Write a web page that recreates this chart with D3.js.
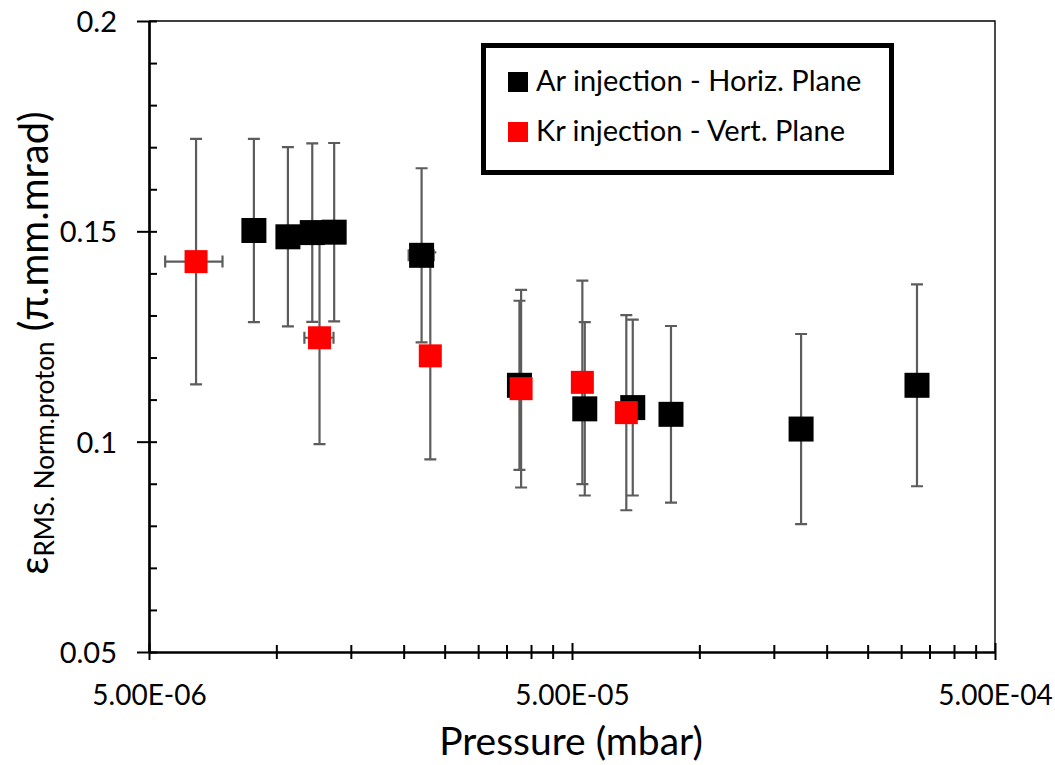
<!DOCTYPE html>
<html>
<head>
<meta charset="utf-8">
<script src="https://cdn.jsdelivr.net/npm/d3@7"></script>
<style>
  body { margin: 0; background: #fff; }
  svg { display: block; }
  text { font-family: Lato, "Open Sans", sans-serif; fill: #000; }
</style>
</head>
<body>
<svg id="chart" width="1055" height="765"></svg>
<script>
// Ar injection, horizontal plane
const arPressure      = [8.85e-6, 1.065e-5, 1.216e-5, 1.37e-5, 2.205e-5, 3.756e-5, 5.36e-5, 6.96e-5, 8.57e-5, 1.74e-4, 3.27e-4];
const arEmittance     = [0.1502, 0.1487, 0.1497, 0.1498, 0.1443, 0.1134, 0.1078, 0.1081, 0.1065, 0.1030, 0.1134];
const arError         = [0.0218, 0.0213, 0.0212, 0.0212, 0.0207, 0.0201, 0.0206, 0.0209, 0.0210, 0.0226, 0.0240];
const arPressureError = [0, 0, 0, 0, 1.5e-6, 0, 0, 0, 0, 0, 0];

// Kr injection, vertical plane
const krPressure      = [6.46e-6, 1.265e-5, 2.312e-5, 3.79e-5, 5.29e-5, 6.72e-5];
const krEmittance     = [0.1428, 0.1247, 0.1204, 0.1126, 0.1141, 0.1069];
const krError         = [0.0292, 0.0253, 0.0246, 0.0235, 0.0242, 0.0232];
const krPressureError = [1e-6, 1e-6, 0, 0, 0, 0];

const seriesNames  = ["Ar injection - Horiz. Plane", "Kr injection - Vert. Plane"];
const seriesColors = ["#000000", "#ff0000"];

const yMajorTicks  = [0.05, 0.1, 0.15, 0.2];
const yTickLabels  = ["0.05", "0.1", "0.15", "0.2"];
const xMajorTicks  = [5e-6, 5e-5, 5e-4];
const xTickLabels  = ["5.00E-06", "5.00E-05", "5.00E-04"];
const xTitle = "Pressure (mbar)";

const svg = d3.select("#chart");
const plotLeft = 149, plotRight = 995, plotTop = 21, plotBottom = 652;

const x = d3.scaleLog().domain([5e-6, 5e-4]).range([plotLeft, plotRight]);
const y = d3.scaleLinear().domain([0.05, 0.2]).range([plotBottom, plotTop]);

// plot-area outline (top and right edges)
svg.append("path")
  .attr("d", `M${plotLeft},${plotTop}H${plotRight}V${plotBottom}`)
  .attr("fill", "none").attr("stroke", "#000").attr("stroke-width", 1.4);

// minor ticks
const yMinor = d3.range(6, 20).filter(k => k % 5 !== 0).map(k => k / 100);
svg.append("g").attr("transform", `translate(${plotLeft},0)`)
  .call(d3.axisLeft(y).tickValues(yMinor).tickFormat("").tickSize(-8).tickSizeOuter(0))
  .call(g => g.select(".domain").remove())
  .call(g => g.selectAll("line").attr("stroke", "#000").attr("stroke-width", 2));

const xMinor = [];
[5e-6, 5e-5].forEach(base => { for (let k = 2; k <= 9; k++) xMinor.push(base * k); });
svg.append("g").attr("transform", `translate(0,${plotBottom})`)
  .call(d3.axisBottom(x).tickValues(xMinor).tickFormat("").tickSize(7).tickSizeOuter(0))
  .call(g => g.select(".domain").remove())
  .call(g => g.selectAll("line").attr("y1", -7).attr("stroke", "#000").attr("stroke-width", 2));

// y axis
svg.append("g").attr("transform", `translate(${plotLeft},0)`)
  .call(d3.axisLeft(y).tickValues(yMajorTicks).tickFormat((d, i) => yTickLabels[i])
        .tickSize(12).tickSizeOuter(0).tickPadding(20))
  .call(g => g.select(".domain").attr("stroke", "#000").attr("stroke-width", 2.7))
  .call(g => g.selectAll("line").attr("x1", 8).attr("stroke", "#000").attr("stroke-width", 2))
  .call(g => g.selectAll("text").attr("font-size", 29).attr("dy", "0.36em")
        .attr("font-family", "Lato, sans-serif").attr("fill", "#000"));

// x axis
svg.append("g").attr("transform", `translate(0,${plotBottom})`)
  .call(d3.axisBottom(x).tickValues(xMajorTicks).tickFormat((d, i) => xTickLabels[i])
        .tickSize(8).tickSizeOuter(0))
  .call(g => g.select(".domain").attr("stroke", "#000").attr("stroke-width", 2.7))
  .call(g => g.selectAll("line").attr("y1", -9).attr("stroke", "#000").attr("stroke-width", 2))
  .call(g => g.selectAll("text").attr("font-size", 28).attr("y", 53).attr("dy", 0)
        .attr("font-family", "Lato, sans-serif").attr("fill", "#000"));

// axis titles
svg.append("text")
  .attr("x", (plotLeft + plotRight) / 2 - 1).attr("y", 755)
  .attr("text-anchor", "middle").attr("font-size", 39)
  .text(xTitle);

const yTitle = svg.append("text")
  .attr("transform", "translate(48,343) rotate(-90)")
  .attr("text-anchor", "middle").attr("font-size", 40);
yTitle.append("tspan").text("ε");
yTitle.append("tspan").attr("font-size", 26).attr("dy", 6).text("RMS. Norm.proton");
yTitle.append("tspan").attr("dy", -6).text(" (π.mm.mrad)");

// data
const series = [
  { p: arPressure, v: arEmittance, e: arError, pe: arPressureError, color: seriesColors[0], size: 25 },
  { p: krPressure, v: krEmittance, e: krError, pe: krPressureError, color: seriesColors[1], size: 23 }
].map(s => ({ ...s, points: s.p.map((p, i) => ({ p, v: s.v[i], e: s.e[i], pe: s.pe[i] })) }));

const errG = svg.append("g").attr("stroke", "#5c5c5c").attr("stroke-width", 2.2).attr("fill", "none");
const cap = 6;
series.forEach(s => {
  s.points.forEach(d => {
    const cx = x(d.p), y0 = y(d.v - d.e), y1 = y(d.v + d.e);
    errG.append("path").attr("d",
      `M${cx},${y0}V${y1}M${cx - cap},${y0}H${cx + cap}M${cx - cap},${y1}H${cx + cap}`);
    if (d.pe > 0) {
      const cy = y(d.v), x0 = x(d.p - d.pe), x1 = x(d.p + d.pe);
      errG.append("path").attr("d",
        `M${x0},${cy}H${x1}M${x0},${cy - cap}V${cy + cap}M${x1},${cy - cap}V${cy + cap}`);
    }
  });
});

series.forEach(s => {
  svg.append("g").selectAll("rect").data(s.points).join("rect")
    .attr("x", d => x(d.p) - s.size / 2)
    .attr("y", d => y(d.v) - s.size / 2)
    .attr("width", s.size).attr("height", s.size)
    .attr("fill", s.color);
});

// legend
const legend = svg.append("g");
legend.append("rect")
  .attr("x", 483.5).attr("y", 45.5).attr("width", 408).attr("height", 127)
  .attr("fill", "#fff").attr("stroke", "#000").attr("stroke-width", 5);
seriesNames.forEach((name, i) => {
  const baseY = 91 + i * 50;
  legend.append("rect")
    .attr("x", 508).attr("y", baseY - 19).attr("width", 20).attr("height", 20)
    .attr("fill", seriesColors[i]);
  legend.append("text")
    .attr("x", 536).attr("y", baseY).attr("font-size", 29)
    .text(name);
});
</script>
</body>
</html>
